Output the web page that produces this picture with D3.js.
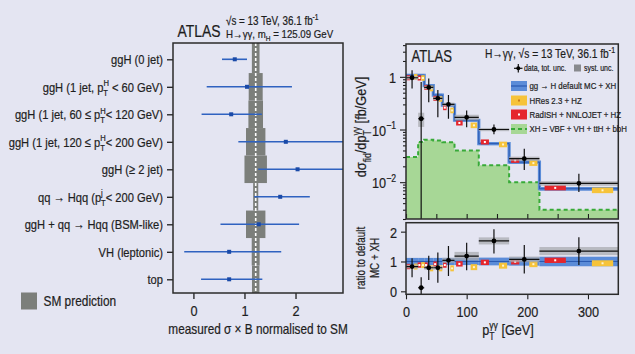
<!DOCTYPE html>
<html><head><meta charset="utf-8">
<script src="https://cdn.jsdelivr.net/npm/d3@7"></script>
<style>html,body{margin:0;padding:0;background:#e4e5f2;}svg{display:block;}svg text{stroke:#1e1e1e;stroke-width:0.22px;}</style>
</head><body>
<svg id="c" width="635" height="354"></svg>
<script>
// ---------------- data ----------------
const rowLabels = [
  "ggH (0 jet)",
  "ggH (1 jet, p^{H}_{T}  < 60 GeV)",
  "ggH (1 jet, 60 ≤ p^{H}_{T}< 120 GeV)",
  "ggH (1 jet, 120 ≤ p^{H}_{T}< 200 GeV)",
  "ggH (≥ 2 jet)",
  "qq → Hqq (p^{j}_{T}< 200 GeV)",
  "ggH + qq → Hqq (BSM-like)",
  "VH (leptonic)",
  "top"
];
const muValue = [0.81, 1.05, 0.74, 1.81, 2.04, 1.70, 1.28, 0.70, 0.70];
const muLow   = [0.56, 0.26, 0.16, 0.88, 1.27, 1.19, 0.53, -0.18, 0.15];
const muHigh  = [1.05, 1.93, 1.34, 2.95, 3.00, 2.28, 2.07, 1.72, 1.35];
const smCenter = 1.22;
const smHalfWidth = [0.075, 0.137, 0.143, 0.19, 0.22, 0.05, 0.19, 0.078, 0.073];
const muTicks = [0, 1, 2];

const binEdges = [0, 20, 30, 45, 60, 80, 120, 170, 220, 350];
const dataXsec   = [0.96, 0.16, 0.63, 0.39, 0.30, 0.17, 0.100, 0.028, 0.0095];
const dataXsecUp = [1.34, 0.80, 0.93, 0.56, 0.45, 0.23, 0.124, 0.043, 0.0145];
const dataXsecDn = [0.60, 0.0005, 0.33, 0.17, 0.16, 0.11, 0.081, 0.017, 0.0065];
const dataSystRel = [0.08, 0.30, 0.08, 0.08, 0.08, 0.12, 0.07, 0.09, 0.10];
const mcXsec   = [1.07, 1.07, 0.68, 0.45, 0.29, 0.15, 0.054, 0.024, 0.0075];
const mcRelUnc = [0.12, 0.12, 0.12, 0.12, 0.12, 0.12, 0.13, 0.14, 0.16];
const xhXsec   = [0.030, 0.058, 0.064, 0.062, 0.057, 0.040, 0.021, 0.010, 0.0030];
const radishXsec = [0.96, 0.95, 0.63, 0.39, 0.26, 0.133, 0.058, 0.026, 0.0078];
const hresXsec   = [1.00, 0.95, 0.60, 0.38, 0.23, 0.120, 0.052, 0.023, 0.0070];
const radishRel = [0.09, 0.09, 0.09, 0.09, 0.09, 0.09, 0.09, 0.09, 0.09];
const hresRel   = [0.10, 0.10, 0.10, 0.10, 0.10, 0.10, 0.10, 0.10, 0.10];

const dataRatio   = [0.83, 0.12, 0.79, 0.79, 1.04, 1.18, 1.69, 1.07, 1.35];
const dataRatioUp = [1.11, 0.47, 1.19, 1.30, 1.52, 1.63, 2.08, 1.55, 1.81];
const dataRatioDn = [0.47, -0.50, 0.38, 0.29, 0.51, 0.71, 1.27, 0.60, 0.88];
const radishRatio = [0.83, 0.88, 0.88, 0.91, 0.88, 0.92, 0.97, 0.99, 1.04];
const hresRatio   = [0.83, 0.88, 0.77, 0.77, 0.77, 0.81, 0.86, 0.91, 0.94];

const ptTicks = [0, 100, 200, 300];
const ptMinorTicks = [0, 50, 100, 150, 200, 250, 300];
const xsecMajorTicks = [1, 0.1, 0.01];
const xsecTickLabels = ["1", "10^{−1}", "10^{−2}"];
const ratioTicks = [0, 1, 2];

const legendEntries = [
  "gg → H default MC + XH",
  "HRes 2.3 + HZ",
  "RadISH + NNLOJET + HZ",
  "XH = VBF + VH + ttH + bbH"
];

// ---------------- style ----------------
const FONT = "'Liberation Sans Narrow','Liberation Sans',Arial,sans-serif";
const SX = 0.82; // horizontal condensation of text
const INK = "#1e1e1e";
const BG = "#e4e5f2";
const SMGREY = "#7c7f7b";
const MUBLUE = "#2f62c0";
const BAND = "#5b8cd8";
const BANDLINE = "#2a59b0";
const GREENFILL = "#a7d796";
const GREENLINE = "#38aa38";
const RED = "#e5262d";
const YELLOW = "#f6c33a";
const SYST = "#a9abb0";

const svg = d3.select("#c").attr("font-family", FONT);
svg.append("rect").attr("width", 635).attr("height", 354).attr("fill", BG);
const defs = svg.append("defs");

function cond(sel) {
  sel.each(function () {
    const t = d3.select(this);
    const x = +t.attr("x") || 0, y = +t.attr("y") || 0;
    const prev = t.attr("transform") || "";
    t.attr("x", 0).attr("y", 0).attr("transform", `${prev} translate(${x},${y}) scale(${SX},1)`);
  });
  return sel;
}

function rich(sel, str, fs) {
  const parts = str.split(/(\^\{[^}]*\}|_\{[^}]*\})/).filter(s => s.length);
  let cur = 0, prev = null, pend = 0;
  for (const p of parts) {
    let type = "n", txt = p;
    if (p.startsWith("^{")) { type = "sup"; txt = p.slice(2, -1); }
    else if (p.startsWith("_{")) { type = "sub"; txt = p.slice(2, -1); }
    const target = type === "sup" ? -0.42 * fs : type === "sub" ? 0.3 * fs : 0;
    const ts = sel.append("tspan").attr("font-size", type === "n" ? fs : fs * 0.68).text(txt);
    const dy = target - cur;
    if (dy !== 0) ts.attr("dy", dy);
    cur = target;
    let w = ts.node().getComputedTextLength();
    if (type !== "n" && prev && prev.type !== "n") {
      ts.attr("dx", -prev.w);
      pend = Math.max(0, prev.w - w);
      w = Math.max(w, prev.w);
    } else if (pend) { ts.attr("dx", pend); pend = 0; }
    prev = { type, w };
  }
  return sel;
}
function richText(parent, x, y, str, fs, anchor) {
  const t = parent.append("text").attr("x", x).attr("y", y).attr("fill", INK)
    .attr("text-anchor", anchor || "start").attr("font-size", fs);
  rich(t, str, fs);
  return cond(t);
}
function plainText(parent, x, y, str, fs, anchor) {
  const t = parent.append("text").attr("x", x).attr("y", y).attr("fill", INK)
    .attr("text-anchor", anchor || "start").attr("font-size", fs).text(str);
  return cond(t);
}

// ================= LEFT PANEL =================
const L = { x0: 173, x1: 343, y0: 43, y1: 293 };
const xL = d3.scaleLinear().domain([-0.4, 2.93]).range([L.x0, L.x1]);
const yL = d3.scalePoint().domain(d3.range(rowLabels.length)).range([59.3, 279.3]);

defs.append("clipPath").attr("id", "clipL").append("rect")
  .attr("x", L.x0).attr("y", L.y0).attr("width", L.x1 - L.x0).attr("height", L.y1 - L.y0);

const gL = svg.append("g");
const gLc = gL.append("g").attr("clip-path", "url(#clipL)");

const rows = d3.range(rowLabels.length);
const rowTop = i => i === 0 ? L.y0 : (yL(i - 1) + yL(i)) / 2;
const rowBot = i => i === rows.length - 1 ? L.y1 : (yL(i) + yL(i + 1)) / 2;
gLc.selectAll("rect.sm").data(rows).join("rect")
  .attr("x", i => xL(smCenter - smHalfWidth[i]))
  .attr("width", i => xL(smCenter + smHalfWidth[i]) - xL(smCenter - smHalfWidth[i]))
  .attr("y", rowTop).attr("height", i => rowBot(i) - rowTop(i))
  .attr("fill", SMGREY);
gLc.append("line").attr("x1", xL(smCenter)).attr("x2", xL(smCenter))
  .attr("y1", L.y0).attr("y2", L.y1)
  .attr("stroke", "#ffffff").attr("stroke-width", 1.6).attr("stroke-dasharray", "3,2");

gLc.selectAll("line.mu").data(rows).join("line")
  .attr("x1", i => xL(muLow[i])).attr("x2", i => xL(muHigh[i]))
  .attr("y1", i => yL(i)).attr("y2", i => yL(i))
  .attr("stroke", MUBLUE).attr("stroke-width", 1.6);
gLc.selectAll("rect.mu").data(rows).join("rect")
  .attr("x", i => xL(muValue[i]) - 2).attr("y", i => yL(i) - 2)
  .attr("width", 4).attr("height", 4).attr("fill", "#1a4aa8");

const axL = gL.append("g").attr("transform", `translate(${L.x0},0)`)
  .call(d3.axisLeft(yL).tickSize(6).tickPadding(4).tickFormat(i => rowLabels[i]));
axL.select(".domain").remove();
axL.selectAll("line").attr("stroke", INK).attr("stroke-width", 1.3);
axL.selectAll("text").each(function (i) {
  const t = d3.select(this).text("").attr("fill", INK).attr("font-family", FONT).attr("dy", null).attr("y", 4.6);
  rich(t, rowLabels[i], 13.6);
  cond(t);
});
const axLb = gL.append("g").attr("transform", `translate(0,${L.y1})`)
  .call(d3.axisBottom(xL).tickValues(muTicks).tickSize(6).tickPadding(3).tickFormat(d3.format("d")));
axLb.select(".domain").remove();
axLb.selectAll("line").attr("stroke", INK).attr("stroke-width", 1.3);
axLb.selectAll("text").attr("font-size", 15.5).attr("font-family", FONT).attr("fill", INK)
  .attr("dy", null).attr("y", 23);
cond(axLb.selectAll("text"));

gL.append("rect").attr("x", L.x0).attr("y", L.y0).attr("width", L.x1 - L.x0).attr("height", L.y1 - L.y0)
  .attr("fill", "none").attr("stroke", "#2b2b2b").attr("stroke-width", 1.5);

plainText(gL, 258, 333.5, "measured σ × B normalised to SM", 14.4, "middle");

plainText(gL, 177.5, 36.5, "ATLAS", 17);
richText(gL, 226, 25, "√s = 13 TeV, 36.1 fb^{-1}", 12);
richText(gL, 226, 37.5, "H→γγ, m_{H} = 125.09 GeV", 11.8);

gL.append("rect").attr("x", 21).attr("y", 292.5).attr("width", 16).attr("height", 17).attr("fill", SMGREY);
plainText(gL, 43.5, 305.5, "SM prediction", 14.5);

// ================= RIGHT PANEL =================
const R = { x0: 406, x1: 618.3, yt0: 44, yt1: 219, yr0: 222.7, yr1: 294.3 };
const xR = d3.scaleLinear().domain([0, 350]).range([R.x0, R.x1]);
const yT = d3.scaleLog().domain([0.002, 4.2]).range([R.yt1, R.yt0]);
const yR = d3.scaleLinear().domain([-0.1, 2.3]).range([R.yr1, R.yr0]);
const bins = d3.range(binEdges.length - 1);
const lo = i => binEdges[i], hi = i => binEdges[i + 1];

defs.append("clipPath").attr("id", "clipT").append("rect")
  .attr("x", R.x0).attr("y", R.yt0).attr("width", R.x1 - R.x0).attr("height", R.yt1 - R.yt0);
defs.append("clipPath").attr("id", "clipR").append("rect")
  .attr("x", R.x0).attr("y", R.yr0).attr("width", R.x1 - R.x0).attr("height", R.yr1 - R.yr0);

const gT = svg.append("g").attr("clip-path", "url(#clipT)");
const gR = svg.append("g").attr("clip-path", "url(#clipR)");

function stepPoints(vals) {
  const pts = bins.map(i => [binEdges[i], vals[i]]);
  pts.push([binEdges[binEdges.length - 1], vals[vals.length - 1]]);
  return pts;
}

const xhPts = stepPoints(xhXsec);
gT.append("path").datum(xhPts)
  .attr("d", d3.area().curve(d3.curveStepAfter).x(d => xR(d[0])).y0(yT(0.002)).y1(d => yT(d[1])))
  .attr("fill", GREENFILL);
gT.append("path").datum(xhPts)
  .attr("d", d3.line().curve(d3.curveStepAfter).x(d => xR(d[0])).y(d => yT(d[1])))
  .attr("fill", "none").attr("stroke", GREENLINE).attr("stroke-width", 2).attr("stroke-dasharray", "4,3");

gT.selectAll("rect.band").data(bins).join("rect")
  .attr("x", i => xR(lo(i))).attr("width", i => xR(hi(i)) - xR(lo(i)))
  .attr("y", i => yT(mcXsec[i] * (1 + mcRelUnc[i] * 0.5)))
  .attr("height", i => yT(mcXsec[i] * (1 - mcRelUnc[i] * 0.5)) - yT(mcXsec[i] * (1 + mcRelUnc[i] * 0.5)))
  .attr("fill", BAND);
const mcPts = stepPoints(mcXsec);
gT.append("path").datum(mcPts)
  .attr("d", d3.line().curve(d3.curveStepAfter).x(d => xR(d[0])).y(d => yT(d[1])))
  .attr("fill", "none").attr("stroke", BAND).attr("stroke-width", 3.2);
gT.append("path").datum(mcPts)
  .attr("d", d3.line().curve(d3.curveStepAfter).x(d => xR(d[0])).y(d => yT(d[1])))
  .attr("fill", "none").attr("stroke", BANDLINE).attr("stroke-width", 1);

function predBoxes(g, yS, vals, rel, frac, color, dotColor, ratio) {
  const wOf = i => Math.max(3.5, 0.27 * (xR(hi(i)) - xR(lo(i))));
  const cx = i => xR(lo(i) + frac * (hi(i) - lo(i)));
  const top = i => ratio ? yS(vals[i] + rel[i]) : yS(vals[i] * (1 + rel[i] * 1.3));
  const bot = i => ratio ? yS(vals[i] - rel[i]) : yS(vals[i] / (1 + rel[i] * 1.3));
  g.selectAll(null).data(bins).join("rect")
    .attr("x", i => cx(i) - wOf(i) / 2).attr("width", wOf)
    .attr("y", top).attr("height", i => Math.max(4, bot(i) - top(i)))
    .attr("fill", color);
  g.selectAll(null).data(bins).join("rect")
    .attr("x", i => cx(i) - 1).attr("y", i => yS(vals[i]) - 1)
    .attr("width", 2).attr("height", 2).attr("fill", dotColor);
}
predBoxes(gT, yT, radishXsec, radishRel, 0.2, RED, "#ffffff", false);
predBoxes(gT, yT, hresXsec, hresRel, 0.8, YELLOW, "#fff4d0", false);

gT.selectAll("rect.syst").data(bins).join("rect")
  .attr("x", i => xR(lo(i))).attr("width", i => xR(hi(i)) - xR(lo(i)))
  .attr("y", i => yT(dataXsec[i] * (1 + dataSystRel[i])))
  .attr("height", i => yT(dataXsec[i] * (1 - dataSystRel[i])) - yT(dataXsec[i] * (1 + dataSystRel[i])))
  .attr("fill", SYST).attr("opacity", 0.75);
const cxD = i => xR((lo(i) + hi(i)) / 2);
gT.selectAll("line.dx").data(bins).join("line")
  .attr("x1", i => xR(lo(i))).attr("x2", i => xR(hi(i)))
  .attr("y1", i => yT(dataXsec[i])).attr("y2", i => yT(dataXsec[i]))
  .attr("stroke", "#111").attr("stroke-width", 1.2);
gT.selectAll("line.dy").data(bins).join("line")
  .attr("x1", cxD).attr("x2", cxD)
  .attr("y1", i => yT(dataXsecUp[i])).attr("y2", i => yT(dataXsecDn[i]))
  .attr("stroke", "#111").attr("stroke-width", 1.2);
gT.selectAll("circle.d").data(bins).join("circle")
  .attr("cx", cxD).attr("cy", i => yT(dataXsec[i])).attr("r", 2.4).attr("fill", "#000");

// ---- ratio panel ----
gR.selectAll("rect.band").data(bins).join("rect")
  .attr("x", i => xR(lo(i))).attr("width", i => xR(hi(i)) - xR(lo(i)))
  .attr("y", i => yR(1 + mcRelUnc[i])).attr("height", i => yR(1 - mcRelUnc[i]) - yR(1 + mcRelUnc[i]))
  .attr("fill", BAND);
gR.append("line").attr("x1", R.x0).attr("x2", R.x1).attr("y1", yR(1)).attr("y2", yR(1))
  .attr("stroke", BANDLINE).attr("stroke-width", 1);
predBoxes(gR, yR, radishRatio, radishRel, 0.2, RED, "#ffffff", true);
predBoxes(gR, yR, hresRatio, hresRel, 0.8, YELLOW, "#fff4d0", true);
gR.selectAll("rect.syst").data(bins).join("rect")
  .attr("x", i => xR(lo(i))).attr("width", i => xR(hi(i)) - xR(lo(i)))
  .attr("y", i => yR(dataRatio[i] * (1 + dataSystRel[i])))
  .attr("height", i => yR(dataRatio[i] * (1 - dataSystRel[i])) - yR(dataRatio[i] * (1 + dataSystRel[i])))
  .attr("fill", SYST).attr("opacity", 0.75);
gR.selectAll("line.dx").data(bins).join("line")
  .attr("x1", i => xR(lo(i))).attr("x2", i => xR(hi(i)))
  .attr("y1", i => yR(dataRatio[i])).attr("y2", i => yR(dataRatio[i]))
  .attr("stroke", "#111").attr("stroke-width", 1.2);
gR.selectAll("line.dy").data(bins).join("line")
  .attr("x1", cxD).attr("x2", cxD)
  .attr("y1", i => yR(dataRatioUp[i])).attr("y2", i => yR(dataRatioDn[i]))
  .attr("stroke", "#111").attr("stroke-width", 1.2);
gR.selectAll("circle.d").data(bins).join("circle")
  .attr("cx", cxD).attr("cy", i => yR(dataRatio[i])).attr("r", 2.4).attr("fill", "#000");

// ---- axes right ----
const gA = svg.append("g");
const minorLog = [];
for (let d = -3; d <= 0; d++) for (let k = 2; k <= 9; k++) {
  const v = k * Math.pow(10, d);
  if (v >= 0.002 && v <= 4.2) minorLog.push(v);
}
const axTm = gA.append("g").attr("transform", `translate(${R.x0},0)`)
  .call(d3.axisLeft(yT).tickValues(minorLog).tickSize(3).tickFormat(""));
const axTM = gA.append("g").attr("transform", `translate(${R.x0},0)`)
  .call(d3.axisLeft(yT).tickValues(xsecMajorTicks).tickSize(6).tickPadding(4).tickFormat((d, i) => xsecTickLabels[i]));
[axTm, axTM].forEach(a => { a.select(".domain").remove(); a.selectAll("line").attr("stroke", INK).attr("stroke-width", 1.1); });
axTM.selectAll("text").each(function (d, i) {
  const t = d3.select(this).text("").attr("fill", INK).attr("font-family", FONT).attr("dy", null).attr("y", 5.5);
  rich(t, xsecTickLabels[i], 15.5);
  cond(t);
});
const axTb = gA.append("g").attr("transform", `translate(0,${R.yt1})`)
  .call(d3.axisBottom(xR).tickValues(ptMinorTicks).tickSize(-5).tickFormat(""));
axTb.select(".domain").remove();
axTb.selectAll("line").attr("stroke", INK).attr("stroke-width", 1.1);
const axRl = gA.append("g").attr("transform", `translate(${R.x0},0)`)
  .call(d3.axisLeft(yR).tickValues(ratioTicks).tickSize(5).tickPadding(4).tickFormat(d3.format("d")));
axRl.select(".domain").remove();
axRl.selectAll("line").attr("stroke", INK).attr("stroke-width", 1.1);
axRl.selectAll("text").attr("font-size", 15.5).attr("font-family", FONT).attr("fill", INK).attr("dy", null).attr("y", 5.5);
cond(axRl.selectAll("text"));
const axRb = gA.append("g").attr("transform", `translate(0,${R.yr1})`)
  .call(d3.axisBottom(xR).tickValues(ptTicks).tickSize(5).tickPadding(3).tickFormat(d3.format("d")));
axRb.select(".domain").remove();
axRb.selectAll("line").attr("stroke", INK).attr("stroke-width", 1.1);
axRb.selectAll("text").attr("font-size", 15.5).attr("font-family", FONT).attr("fill", INK).attr("dy", null).attr("y", 22.5);
cond(axRb.selectAll("text"));

gA.append("rect").attr("x", R.x0).attr("y", R.yt0).attr("width", R.x1 - R.x0).attr("height", R.yt1 - R.yt0)
  .attr("fill", "none").attr("stroke", "#2b2b2b").attr("stroke-width", 1.5);
gA.append("rect").attr("x", R.x0).attr("y", R.yr0).attr("width", R.x1 - R.x0).attr("height", R.yr1 - R.yr0)
  .attr("fill", "none").attr("stroke", "#2b2b2b").attr("stroke-width", 1.5);

const yLab = gA.append("text").attr("transform", "translate(366,127) rotate(-90)")
  .attr("text-anchor", "middle").attr("fill", INK).attr("font-size", 15.5);
rich(yLab, "dσ_{fid}/dp^{γγ}_{T} [fb/GeV]", 15.5);
cond(yLab);
const r1 = gA.append("text").attr("transform", "translate(365,258) rotate(-90)").attr("text-anchor", "middle")
  .attr("fill", INK).attr("font-size", 12).text("ratio to default");
const r2 = gA.append("text").attr("transform", "translate(379,258) rotate(-90)").attr("text-anchor", "middle")
  .attr("fill", INK).attr("font-size", 12).text("MC + XH");
cond(r1); cond(r2);
richText(gA, 508, 335, "p^{γγ}_{T} [GeV]", 15.5, "middle");

plainText(gA, 411.5, 62, "ATLAS", 16);
richText(gA, 615, 58, "H→γγ, √s = 13 TeV, 36.1 fb^{-1}", 12.5, "end");
gA.append("line").attr("x1", 514).attr("x2", 522.5).attr("y1", 68.3).attr("y2", 68.3).attr("stroke", "#111").attr("stroke-width", 1.2);
gA.append("line").attr("x1", 518.3).attr("x2", 518.3).attr("y1", 64).attr("y2", 72.6).attr("stroke", "#111").attr("stroke-width", 1.2);
gA.append("circle").attr("cx", 518.3).attr("cy", 68.3).attr("r", 2).attr("fill", "#000");
plainText(gA, 524, 71, "data, tot. unc.", 8.5);
gA.append("rect").attr("x", 574).attr("y", 64.5).attr("width", 7).attr("height", 7).attr("fill", "#888a8e");
plainText(gA, 584, 71, "syst. unc.", 8.5);

const legY = [86, 100.5, 114.5, 129];
const lg = gA.append("g");
legendEntries.forEach((lab, i) => {
  const cy = legY[i];
  if (i === 0) {
    lg.append("rect").attr("x", 511).attr("y", cy - 5).attr("width", 16).attr("height", 10).attr("fill", BAND);
    lg.append("line").attr("x1", 511).attr("x2", 527).attr("y1", cy).attr("y2", cy).attr("stroke", BANDLINE).attr("stroke-width", 1.2);
  } else if (i === 1 || i === 2) {
    lg.append("rect").attr("x", 511).attr("y", cy - 5).attr("width", 16).attr("height", 10).attr("fill", i === 1 ? YELLOW : RED);
    lg.append("rect").attr("x", 518).attr("y", cy - 1).attr("width", 2).attr("height", 2).attr("fill", i === 1 ? "#c77b1a" : "#ffffff");
  } else {
    lg.append("rect").attr("x", 511).attr("y", cy - 5).attr("width", 16).attr("height", 10).attr("fill", GREENFILL);
    lg.append("line").attr("x1", 511).attr("x2", 527).attr("y1", cy).attr("y2", cy).attr("stroke", GREENLINE)
      .attr("stroke-width", 2).attr("stroke-dasharray", "4,3");
  }
  plainText(lg, 529.5, cy + 3.3, lab, 9.6);
});
</script>
</body></html>
